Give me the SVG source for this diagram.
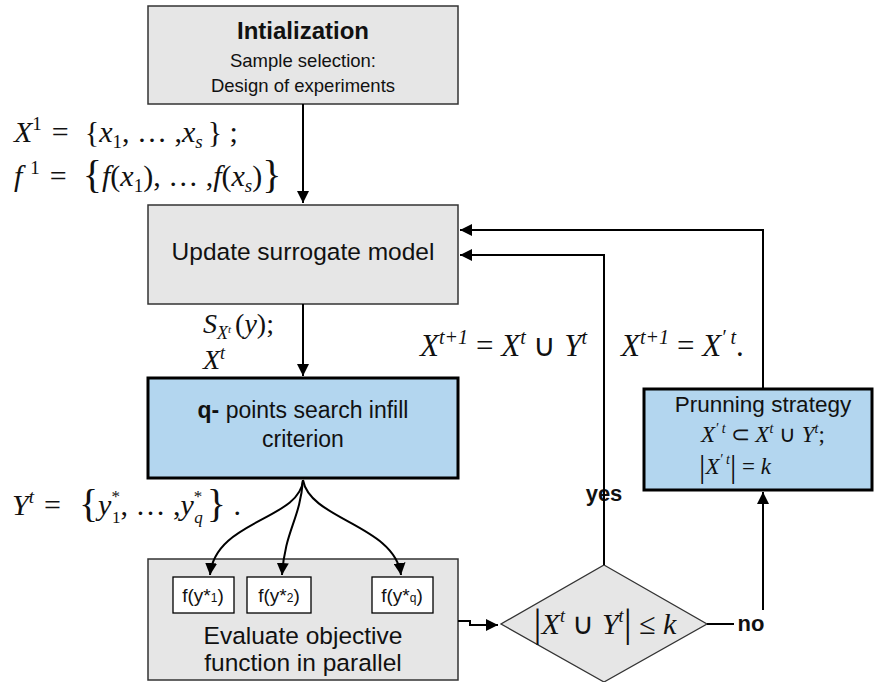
<svg xmlns="http://www.w3.org/2000/svg" width="874" height="682" viewBox="0 0 874 682">
<style>
.box{fill:#e6e6e6;stroke:#333;stroke-width:1.5}
.blue{fill:#b3d6ef;stroke:#000;stroke-width:3}
.small{fill:#fff;stroke:#000;stroke-width:1.3}
.t{font-family:"Liberation Sans",Arial,sans-serif;fill:#111;text-anchor:middle}
.m{font-family:"Liberation Serif","Times New Roman",serif;fill:#111}
.i{font-style:italic}
.c{fill:none;stroke:#000;stroke-width:2}
</style>
<defs>
<marker id="ah" viewBox="0 0 10 10" refX="10" refY="5" markerWidth="6" markerHeight="6" orient="auto"><path d="M0,0L10,5L0,10z" fill="#000"/></marker>
</defs>
<g id="init">
<rect class="box" x="148" y="6" width="310" height="98"/>
<text class="t" x="303" y="39" font-size="24" font-weight="bold">Intialization</text>
<text class="t" x="303" y="67" font-size="18.5">Sample selection:</text>
<text class="t" x="303" y="92" font-size="18.5">Design of experiments</text>
</g>
<g id="update">
<rect class="box" x="148" y="205" width="310" height="99"/>
<text class="t" x="303" y="260" font-size="24.5">Update surrogate model</text>
</g>
<g id="infill">
<rect class="blue" x="148" y="378" width="310" height="100"/>
<text class="t" x="303" y="418" font-size="23"><tspan font-weight="bold">q-</tspan> points search infill</text>
<text class="t" x="303" y="447" font-size="23">criterion</text>
</g>
<g id="evaluate">
<rect class="box" x="148" y="559" width="310" height="121"/>
<rect class="small" x="173" y="577" width="61" height="36"/>
<text class="t" x="203" y="602" font-size="19">f(y*<tspan font-size="12">1</tspan>)</text>
<rect class="small" x="247" y="577" width="64" height="36"/>
<text class="t" x="279" y="602" font-size="19">f(y*<tspan font-size="12">2</tspan>)</text>
<rect class="small" x="372" y="577" width="61" height="36"/>
<text class="t" x="402" y="602" font-size="19">f(y*<tspan font-size="12">q</tspan>)</text>
<text class="t" x="303" y="644" font-size="24.5">Evaluate objective</text>
<text class="t" x="303" y="671" font-size="24.5">function in parallel</text>
</g>
<g id="decision">
<path d="M604,565L707,624L604,682L501,624z" fill="#e6e6e6" stroke="#333" stroke-width="1.3"/>
<text class="m" x="605" y="634" font-size="30" text-anchor="middle"><tspan font-size="40" dy="2">|</tspan><tspan class="i" dy="-2">X</tspan><tspan font-size="18" dy="-12" class="i">t</tspan><tspan dy="12"> ∪ </tspan><tspan class="i">Y</tspan><tspan font-size="18" dy="-12" class="i">t</tspan><tspan font-size="40" dy="14">|</tspan><tspan dy="-2"> ≤ </tspan><tspan class="i">k</tspan></text>
</g>
<g id="pruning">
<rect class="blue" x="644" y="389" width="228" height="101"/>
<text class="t" x="763" y="412" font-size="22.5">Prunning strategy</text>
<text class="m" x="763" y="442" font-size="23" text-anchor="middle"><tspan class="i">X</tspan><tspan class="i" font-size="14" dy="-9">′ t</tspan><tspan dy="9" dx="5">⊂ </tspan><tspan class="i">X</tspan><tspan class="i" font-size="14" dy="-9">t</tspan><tspan dy="9"> ∪ </tspan><tspan class="i">Y</tspan><tspan class="i" font-size="14" dy="-9">t</tspan><tspan dy="9">;</tspan></text>
<text class="m" x="699" y="474" font-size="23"><tspan font-size="32" dy="3">|</tspan><tspan class="i" dy="-3">X</tspan><tspan class="i" font-size="14" dy="-10">′ t</tspan><tspan font-size="32" dy="13">|</tspan><tspan dy="-3"> = </tspan><tspan class="i">k</tspan></text>
</g>
<g id="labels">
<text class="m" x="14" y="142" font-size="30"><tspan class="i">X</tspan><tspan font-size="19" dy="-12">1</tspan><tspan dy="12" dx="10">=</tspan><tspan dx="16">{</tspan><tspan class="i">x</tspan><tspan font-size="19" dy="6">1</tspan><tspan dy="-6">, … ,</tspan><tspan class="i">x</tspan><tspan class="i" font-size="19" dy="6">s</tspan><tspan dy="-6" dx="5">} ;</tspan></text>
<text class="m" x="14" y="186" font-size="30"><tspan class="i">f</tspan><tspan font-size="19" dy="-12" dx="8">1</tspan><tspan dy="12" dx="10">=</tspan><tspan dx="16" font-size="40" dy="2">{</tspan><tspan class="i" dy="-2">f</tspan>(<tspan class="i">x</tspan><tspan font-size="19" dy="6">1</tspan><tspan dy="-6">), … ,</tspan><tspan class="i">f</tspan>(<tspan class="i">x</tspan><tspan class="i" font-size="19" dy="6">s</tspan><tspan dy="-6">)</tspan><tspan font-size="40" dy="2">}</tspan></text>
<text class="m" x="203" y="333" font-size="28"><tspan class="i">S</tspan><tspan class="i" font-size="18" dy="6">X</tspan><tspan class="i" font-size="11" dy="-6">t</tspan><tspan dx="4">(</tspan><tspan class="i">y</tspan>);</text>
<text class="m i" x="203" y="369" font-size="28">X<tspan font-size="18" dy="-10">t</tspan></text>
<text class="m" x="420" y="356" font-size="31"><tspan class="i">X</tspan><tspan class="i" font-size="20" dy="-12">t+1</tspan><tspan dy="12" dx="8">= </tspan><tspan class="i">X</tspan><tspan class="i" font-size="20" dy="-12">t</tspan><tspan dy="12"> ∪ </tspan><tspan class="i">Y</tspan><tspan class="i" font-size="20" dy="-12">t</tspan></text>
<text class="m" x="621" y="356" font-size="31"><tspan class="i">X</tspan><tspan class="i" font-size="20" dy="-12">t+1</tspan><tspan dy="12" dx="8">= </tspan><tspan class="i">X</tspan><tspan class="i" font-size="20" dy="-12">′ t</tspan><tspan dy="12">.</tspan></text>
<text class="m" x="12" y="515" font-size="30"><tspan class="i">Y</tspan><tspan class="i" font-size="19" dy="-12">t</tspan><tspan dy="12" dx="10">=</tspan><tspan dx="18" font-size="40" dy="2">{</tspan><tspan class="i" dy="-2">y</tspan><tspan font-size="17" dy="-13">*</tspan><tspan font-size="17" dx="-8" dy="21">1</tspan><tspan dy="-8">, … ,</tspan><tspan class="i">y</tspan><tspan font-size="17" dy="-13">*</tspan><tspan class="i" font-size="17" dx="-8" dy="21">q</tspan><tspan font-size="40" dy="-6" dx="4">}</tspan><tspan dy="-2"> .</tspan></text>
<text class="t" x="604" y="501" font-size="22" font-weight="bold">yes</text>
<text class="t" x="751" y="631" font-size="22" font-weight="bold">no</text>
</g>
<g id="connectors">
<path class="c" d="M303,104V203" marker-end="url(#ah)"/>
<path class="c" d="M303,304V376" marker-end="url(#ah)"/>
<path class="c" d="M303,480C300,520 215,520 210,575" marker-end="url(#ah)"/>
<path class="c" d="M303,480C300,520 285,530 282,575" marker-end="url(#ah)"/>
<path class="c" d="M303,480C310,520 395,525 401,575" marker-end="url(#ah)"/>
<path class="c" d="M458,621H470V625H498" marker-end="url(#ah)"/>
<path class="c" d="M604,565V255H460" marker-end="url(#ah)"/>
<path class="c" d="M707,624H734"/>
<path class="c" d="M763,610V492" marker-end="url(#ah)"/>
<path class="c" d="M763,389V230H460" marker-end="url(#ah)"/>
</g>
</svg>
